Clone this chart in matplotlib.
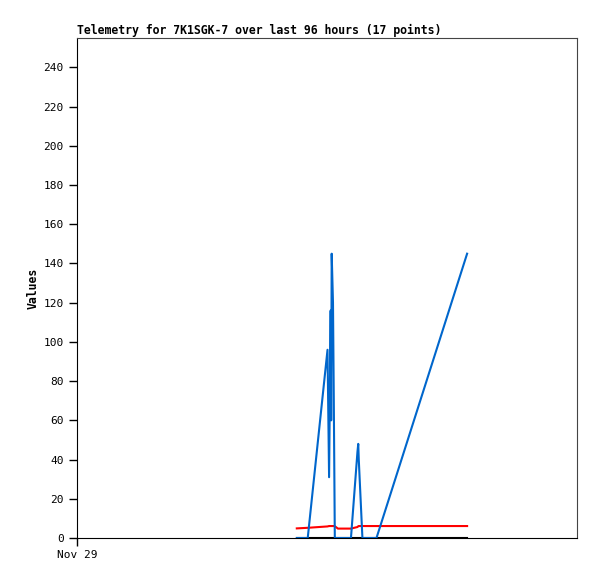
import numpy as np
import matplotlib
matplotlib.use('Agg')
import matplotlib.pyplot as plt

# hours since Nov 29 00:00
hours = [42.2, 44.3, 48.1, 48.4, 48.7, 48.8, 48.9, 49.15, 49.3, 49.5,
         50.1, 52.6, 53.85, 54.0, 54.1, 54.8, 57.5, 74.9]
blue_vals = [0, 0, 96, 31, 116, 60, 145, 120, 72, 0,
             0, 0, 44, 48, 40, 0, 0, 145]
red_vals = [4.9, 5.2, 5.9, 6.1, 6.1, 6.1, 6.1, 6.1, 6.1, 6.0,
            4.8, 4.8, 5.6, 6.0, 6.1, 6.1, 6.1, 6.1]
black_vals = [0] * len(hours)

yticks = list(range(0, 241, 20))
xtick_labels = ['Nov 29']

plt.rcParams['font.family'] = 'DejaVu Sans Mono'

fig = plt.figure(figsize=(5.97, 5.79), dpi=100)
ax = fig.add_axes([77/597, 41/579, 500/597, 500/579])

ax.plot(hours, black_vals, color='black', lw=1.5)
ax.plot(hours, red_vals, color='#ff0000', lw=1.5)
ax.plot(hours, blue_vals, color='#0066cc', lw=1.5)

ax.set_xlim(0, 96)
ax.set_ylim(0, 255)
ax.set_yticks(yticks)
ax.set_xticks([0])
ax.set_xticklabels(xtick_labels)
ax.tick_params(axis='both', labelsize=8, direction='out', length=6, width=1)
ax.tick_params(axis='x', pad=3)

for s in ['top', 'right']:
    ax.spines[s].set_color('#444444')
for s in ['left', 'bottom']:
    ax.spines[s].set_color('black')

ax.set_ylabel('Values', fontsize=8.3, fontweight='bold', labelpad=3)
fig.text(77/597, 1 - 34/579, 'Telemetry for 7K1SGK-7 over last 96 hours (17 points)',
         fontsize=8.3, fontweight='bold', ha='left', va='baseline')

fig.savefig('out.png', dpi=100)
